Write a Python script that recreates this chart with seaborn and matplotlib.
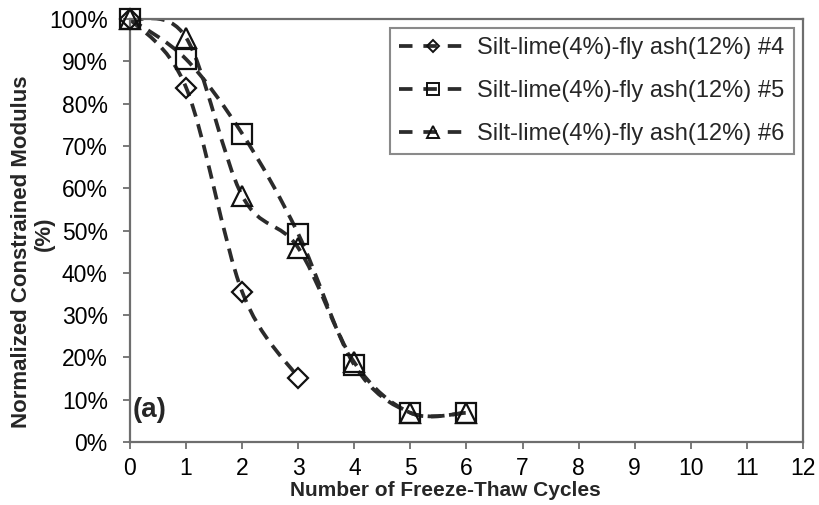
import numpy as np
import pandas as pd
import matplotlib
matplotlib.use("Agg")
import matplotlib.pyplot as plt
from matplotlib.path import Path
from matplotlib.patches import PathPatch
from matplotlib.lines import Line2D
from matplotlib.ticker import PercentFormatter
import seaborn as sns

# Freeze-thaw cycles and normalized constrained modulus (%) for each specimen
cycles_4 = [0, 1, 2, 3]
modulus_4 = [100, 83.8, 35.5, 15.2]

cycles_5 = [0, 1, 2, 3, 4, 5, 6]
modulus_5 = [100, 90.5, 72.9, 49.2, 18.2, 6.9, 6.9]

cycles_6 = [0, 1, 2, 3, 4, 5, 6]
modulus_6 = [100, 95.6, 58.2, 45.9, 18.8, 6.9, 6.9]

series_names = [
    "Silt-lime(4%)-fly ash(12%) #4",
    "Silt-lime(4%)-fly ash(12%) #5",
    "Silt-lime(4%)-fly ash(12%) #6",
]
x_ticks = list(range(0, 13))
y_ticks = list(range(0, 101, 10))

sns.set_theme(style="white")
plt.rcParams["font.family"] = ["Liberation Sans", "DejaVu Sans"]

fig = plt.figure(figsize=(8.2, 5.05), dpi=100)
ax = fig.add_axes([130 / 820, 1 - 442 / 505, 673 / 820, 423 / 505])

LINE_COLOR = "#2b2b2b"
LW = 2.7
DASH = (0, (3.6, 2.1))


def smooth_path(xs, ys):
    """Bezier path through the points, using Catmull-Rom style tangents."""
    pts = np.column_stack([xs, ys]).astype(float)
    n = len(pts)
    verts = [pts[0]]
    codes = [Path.MOVETO]
    for i in range(n - 1):
        p_prev = pts[max(i - 1, 0)]
        p0 = pts[i]
        p1 = pts[i + 1]
        p_next = pts[min(i + 2, n - 1)]
        c1 = p0 + (p1 - p_prev) / 6.0
        c2 = p1 - (p_next - p0) / 6.0
        verts += [c1, c2, p1]
        codes += [Path.CURVE4] * 3
    return Path(np.array(verts), codes)


data = [
    (cycles_4, modulus_4, "D", 10.5),
    (cycles_5, modulus_5, "s", 14.5),
    (cycles_6, modulus_6, "^", 15.0),
]

handles = []
for (xs, ys, mk, ms), name in zip(data, series_names):
    yf = [v / 100 for v in ys]
    patch = PathPatch(smooth_path(xs, yf), facecolor="none", edgecolor=LINE_COLOR,
                      linewidth=LW, linestyle=DASH, capstyle="butt", zorder=2)
    ax.add_patch(patch)
    df = pd.DataFrame({"cycles": xs, "modulus": yf})
    sns.lineplot(data=df, x="cycles", y="modulus", ax=ax, linestyle="none",
                 marker=mk, markersize=ms, markerfacecolor="none",
                 markeredgecolor="#111111", markeredgewidth=1.6, zorder=3,
                 clip_on=False)
    handles.append(Line2D([], [], color=LINE_COLOR, linewidth=LW,
                          linestyle=(0, (3.6, 2.9)), marker=mk,
                          markersize=ms * 0.55, markerfacecolor="none",
                          markeredgecolor="#111111", markeredgewidth=1.4))

ax.set_xlim(0, 12)
ax.set_ylim(0, 1)
ax.set_xticks(x_ticks)
ax.set_yticks([t / 100 for t in y_ticks])
ax.yaxis.set_major_formatter(PercentFormatter(1.0, decimals=0))
ax.set_xlabel("")
ax.set_ylabel("")

for side, spine in ax.spines.items():
    spine.set_color("#6e6e6e")
    spine.set_linewidth(1.6)
ax.tick_params(axis="both", which="major", direction="out", length=5, width=1.3,
               color="#6e6e6e", labelsize=16.5, labelcolor="black")
ax.tick_params(axis="y", pad=11)
ax.tick_params(axis="x", pad=6)
ax.tick_params(bottom=True, left=True)

leg = ax.legend(handles, series_names, loc="upper right",
                bbox_to_anchor=((794 - 130) / 673, (442 - 28) / 423),
                borderaxespad=0, fontsize=17, handlelength=2.9, handletextpad=0.4,
                labelspacing=0.88, borderpad=0.4, fancybox=False, framealpha=1)
leg.get_frame().set_edgecolor("#8a8a8a")
leg.get_frame().set_linewidth(1.5)

ax.text(0.004, 0.075, "(a)", transform=ax.transAxes, fontsize=20,
        fontweight="bold", ha="left", va="center")

fig.text(445 / 820, 1 - 490 / 505, "Number of Freeze-Thaw Cycles",
         fontsize=15, fontweight="bold", ha="center", va="center")
fig.text(22 / 820, 1 - 252 / 505, "Normalized Constrained Modulus",
         fontsize=16, fontweight="bold", rotation=90, ha="center", va="center")
fig.text(44 / 820, 1 - 234 / 505, "(%)",
         fontsize=16, fontweight="bold", rotation=90, ha="center", va="center")

fig.savefig("out.png", dpi=100, facecolor="white")
